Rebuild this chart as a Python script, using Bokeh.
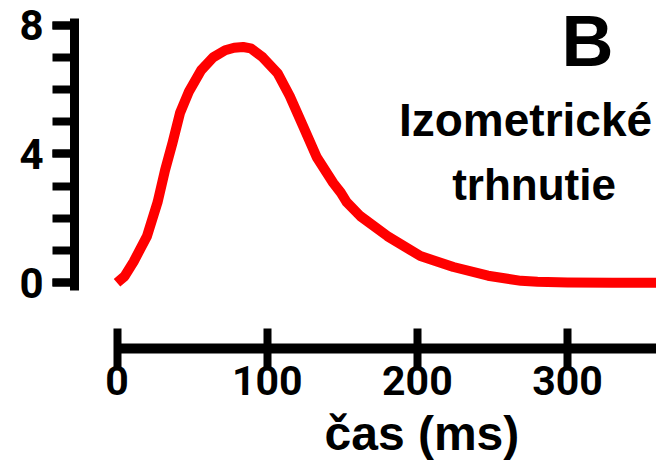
from bokeh.plotting import figure
from bokeh.models import FixedTicker, Label, Range1d, Title
from bokeh.embed import file_html
from bokeh.resources import INLINE

# data (time in ms, force in arbitrary units)
time_ms = [0, 5, 11, 20, 27, 32, 37, 42, 48, 56, 64, 72, 78, 84, 89, 97, 107, 115,
           124, 133, 144, 149, 153, 162, 180, 202, 224, 247, 269, 280, 300, 330, 360, 390]
force = [0, 0.2, 0.65, 1.45, 2.5, 3.5, 4.35, 5.28, 5.95, 6.6, 7.0, 7.22, 7.3, 7.32, 7.28, 7.0, 6.5, 5.8,
         4.85, 3.9, 3.1, 2.8, 2.5, 2.07, 1.45, 0.83, 0.49, 0.22, 0.06, 0.03, 0.01, 0, 0, 0]

x_ticks = [0, 100, 200, 300]
y_ticks = [0, 4, 8]
y_minor = [0, 1, 2, 3, 4, 5, 6, 7, 8]

panel_label = "B"
title_lines = ["Izometrické", "trhnutie"]
x_label = "čas (ms)"

DIGITS = "Roboto"
SANS = "'Liberation Sans', Arial"

p = figure(width=656, height=466, output_backend="svg", toolbar_location=None,
           x_range=Range1d(-28.3, 359.2), y_range=Range1d(-2.04, 8.765),
           min_border_left=74, min_border_right=0, min_border_top=0, min_border_bottom=116)
p.outline_line_color = None
p.xgrid.visible = False
p.ygrid.visible = False
p.background_fill_color = "white"
p.border_fill_color = "white"

p.line(time_ms, force, line_color="#ff0000", line_width=10, line_join="round")

# y axis
ya = p.yaxis[0]
ya.ticker = FixedTicker(ticks=y_ticks, minor_ticks=y_minor)
ya.bounds = (-0.23, 8.21)
ya.axis_line_width = 9
ya.axis_line_color = "black"
ya.major_tick_in = 0
ya.major_tick_out = 22
ya.major_tick_line_width = 8
ya.minor_tick_in = 0
ya.minor_tick_out = 22
ya.minor_tick_line_width = 8
ya.major_label_text_font = DIGITS
ya.major_label_text_font_style = "bold"
ya.major_label_text_font_size = "42px"
ya.major_label_text_color = "black"
ya.major_label_standoff = 9

# x axis
xa = p.xaxis[0]
xa.ticker = FixedTicker(ticks=x_ticks, minor_ticks=[])
xa.bounds = (0, 360)
xa.axis_line_width = 10
xa.axis_line_color = "black"
xa.major_tick_in = 20
xa.major_tick_out = 19
xa.major_tick_line_width = 8
xa.minor_tick_in = 0
xa.minor_tick_out = 0
xa.major_label_text_font = DIGITS
xa.major_label_text_font_style = "bold"
xa.major_label_text_font_size = "41px"
xa.major_label_text_color = "black"
xa.major_label_standoff = -2

# x axis title, placed under the axis and shifted right as in the reference
xt = Title(text=x_label, align="left", offset=250, standoff=14,
           text_font=SANS, text_font_style="bold", text_font_size="48px", text_color="black")
p.add_layout(xt, "below")

p.add_layout(Label(x=296, y=7.52, text=panel_label, text_font=SANS, text_font_style="bold",
                   text_font_size="72px", text_color="black", text_baseline="alphabetic"))
p.add_layout(Label(x=272, y=5.06, text=title_lines[0], text_font=SANS, text_font_style="bold",
                   text_font_size="46px", text_color="black", text_align="center",
                   text_baseline="alphabetic"))
p.add_layout(Label(x=277.7, y=3.05, text=title_lines[1], text_font=SANS, text_font_style="bold",
                   text_font_size="44px", text_color="black", text_align="center",
                   text_baseline="alphabetic"))

open("out.html", "w").write(file_html(p, INLINE))
